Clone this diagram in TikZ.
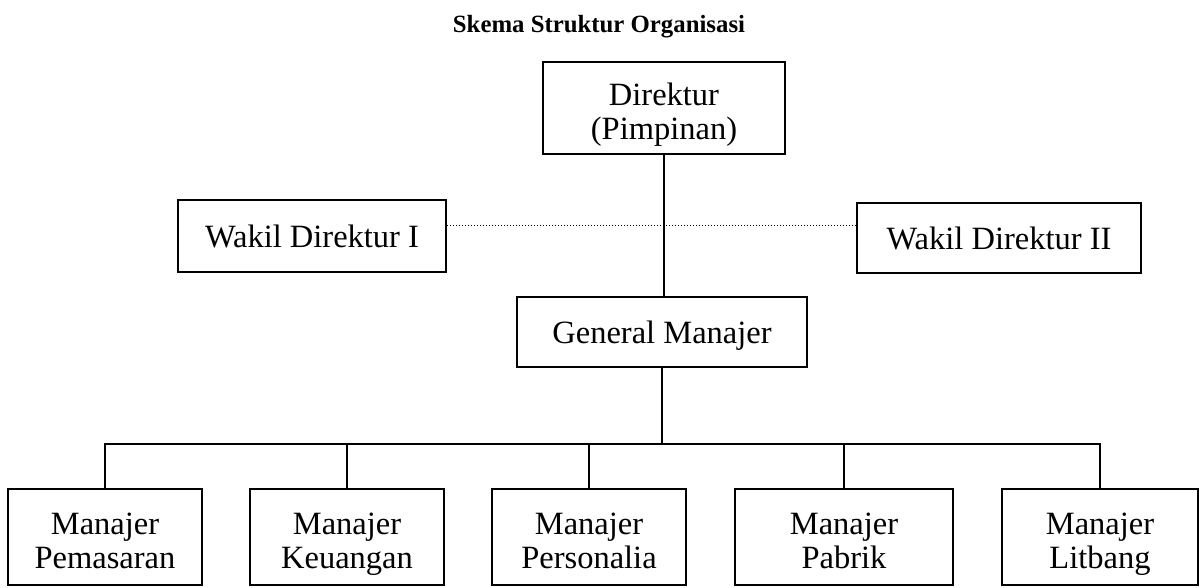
\documentclass[tikz,border=0pt]{standalone}
\usepackage{fontspec}
\setmainfont{Liberation Serif}
\newcommand\firstln{\rule{0pt}{36pt}}
\newcommand\lastln{\rule[-8pt]{0pt}{8pt}}
\newcommand\oneln{\rule[-8pt]{0pt}{38pt}}
\begin{document}
\begin{tikzpicture}[x=1pt,y=-1pt,
  box/.style={draw=black, line width=2pt, rectangle, inner sep=0pt, align=center,
    font=\fontsize{32.5}{34}\selectfont},
  conn/.style={draw=black, line width=2pt},
  dotline/.style={draw=black, line width=1pt, dash pattern=on 1pt off 2pt}]
\useasboundingbox (0,0) rectangle (1201,587);
\node[anchor=base, font=\fontsize{24.8}{28}\selectfont\bfseries] (title) at (599,32) {Skema Struktur Organisasi};
\node[box, minimum width=242pt, minimum height=92pt] (dir) at (664,108) {\firstln Direktur\\(Pimpinan)\lastln};
\node[box, minimum width=268pt, minimum height=72pt] (w1) at (312,236) {\oneln Wakil Direktur I};
\node[box, minimum width=284pt, minimum height=70pt] (w2) at (999,238) {\oneln Wakil Direktur II};
\node[box, minimum width=290pt, minimum height=70pt] (gm) at (662,332) {\oneln General Manajer};
\node[box, minimum width=194pt, minimum height=96pt] (m1) at (105,537) {\firstln Manajer\\Pemasaran\lastln};
\node[box, minimum width=194pt, minimum height=96pt] (m2) at (347,537) {\firstln Manajer\\Keuangan\lastln};
\node[box, minimum width=194pt, minimum height=96pt] (m3) at (589,537) {\firstln Manajer\\Personalia\lastln};
\node[box, minimum width=218pt, minimum height=96pt] (m4) at (844,537) {\firstln Manajer\\Pabrik\lastln};
\node[box, minimum width=196pt, minimum height=96pt] (m5) at (1100,537) {\firstln Manajer\\Litbang\lastln};
\draw[conn] (dir.south) -- (dir.south |- gm.north);
\draw[dotline] ([yshift=11pt]w1.east) -- ([yshift=11pt]w1.east -| w2.west);
\coordinate (bus) at ([yshift=-76pt]gm.south);
\draw[conn] (gm.south) -- (bus);
\draw[conn] (m1.north) -- (m1.north |- bus) -- (m5.north |- bus) -- (m5.north);
\draw[conn] (m2.north) -- (m2.north |- bus);
\draw[conn] (m3.north) -- (m3.north |- bus);
\draw[conn] (m4.north) -- (m4.north |- bus);
\end{tikzpicture}
\end{document}
